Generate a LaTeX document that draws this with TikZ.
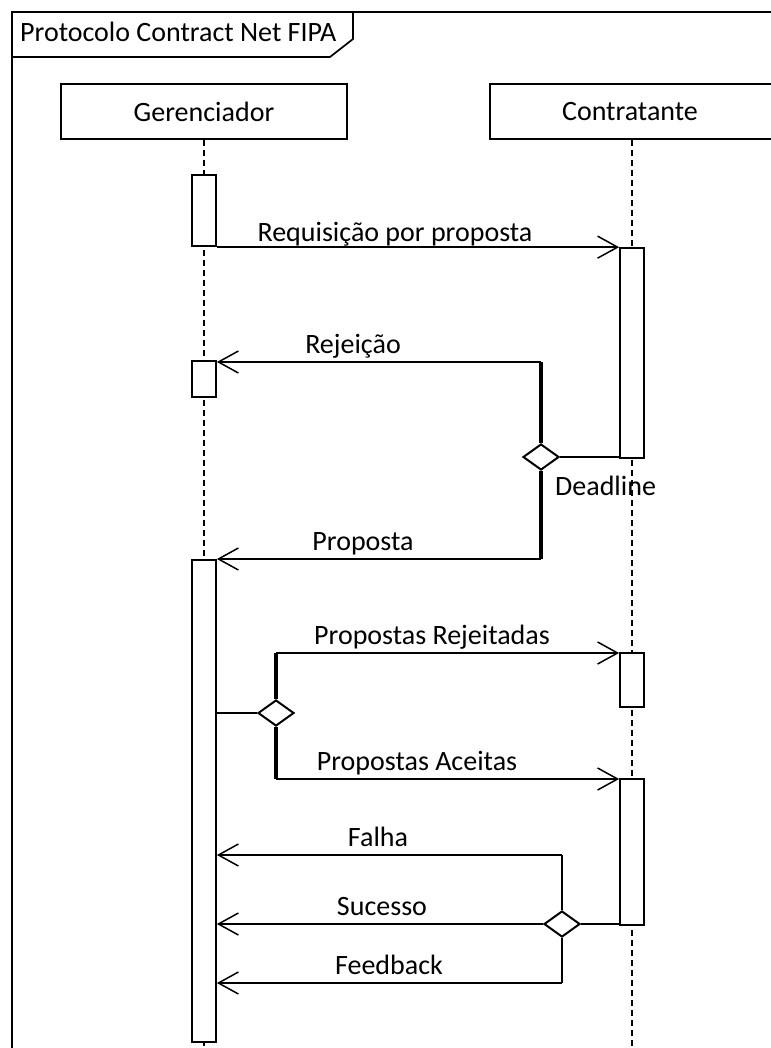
\documentclass[tikz,border=0pt]{standalone}
\usepackage{fontspec}
\setmainfont{Carlito}
\usetikzlibrary{arrows.meta,shapes.geometric,fit}
\tikzset{
  lbl/.style={font=\fontsize{28}{33}\selectfont, inner sep=0pt},
  head/.style={draw, line width=1.7pt, rectangle, inner sep=0pt},
  act/.style={draw, fill=white, line width=1.7pt, rectangle, inner sep=0pt},
  life/.style={line width=1.3pt, dash pattern=on 6pt off 4pt},
  msg/.style={line width=1.5pt, -{Straight Barb[length=20pt,width=22pt,line width=1.5pt]}},
  thick branch/.style={line width=3.2pt},
  thin branch/.style={line width=1.6pt},
  plain/.style={line width=1.5pt},
  choice/.style={diamond, draw, fill=white, line width=2pt, inner sep=0pt, minimum width=36pt, minimum height=26pt},
  frameline/.style={line width=1.7pt}
}
\begin{document}
\begin{tikzpicture}[x=1pt,y=-1pt]
\useasboundingbox (0,0) rectangle (770,1048);
% frame
\coordinate (fbl) at (12,1060);
\coordinate (ftl) at (12,12);
\coordinate (ftr) at (790,12);
\coordinate (tab1) at (12,57);
\coordinate (tab2) at (330,57);
\coordinate (tab3) at (353,39);
\coordinate (tab4) at (353,12);
\draw[frameline] (fbl) -- (ftl) -- (ftr);
\draw[frameline] (tab1) -- (tab2) -- (tab3) -- (tab4);
\node[lbl, anchor=base west] (title) at (20,42) {Protocolo Contract Net FIPA};
% lifeline heads
\node[head, fit={(61,84)(347,139)}] (ger) {};
\node[lbl] (gert) at (ger.center) {Gerenciador};
\node[head, fit={(490,84)(790,139)}] (con) {};
\node[lbl] (cont) at (630,112) {Contratante};
% lifelines
\coordinate (gend) at (204,1060);
\coordinate (cend) at (632,1060);
\draw[life] (ger.south -| gend) -- (gend);
\draw[life] (con.south -| cend) -- (cend);
% activations
\node[act, fit={(192,175)(216,246)}] (a1) {};
\node[act, fit={(192,361)(216,397)}] (a2) {};
\node[act, fit={(192,560)(216,1042)}] (a3) {};
\node[act, fit={(620,248)(644,458)}] (b1) {};
\node[act, fit={(620,653)(644,707)}] (b2) {};
\node[act, fit={(620,779)(644,925)}] (b3) {};
% request
\draw[msg] (a1.east |- b1.north) -- (b1.north west);
\node[lbl, anchor=base] (l1) at (395,242) {Requisição por proposta};
% deadline choice
\node[choice] (d1) at (541,457) {};
\coordinate (j1) at (541,362);
\coordinate (j2) at (541,559);
\draw[plain] (d1.east) -- (d1 -| b1.west);
\draw[thick branch] (d1.north) -- (j1);
\draw[thick branch] (d1.south) -- (j2);
\draw[msg] (j1) -- (j1 -| a2.east);
\draw[msg] (j2) -- (j2 -| a3.east);
\node[lbl, anchor=base] (l2) at (353,353) {Rejeição};
\node[lbl, anchor=base west] (l3) at (555,495) {Deadline};
\node[lbl, anchor=base] (l4) at (363,550) {Proposta};
% evaluation choice
\node[choice] (d2) at (276,713) {};
\coordinate (j3) at (276,653);
\coordinate (j4) at (276,779);
\draw[plain] (d2 -| a3.east) -- (d2.west);
\draw[thick branch] (d2.north) -- (j3);
\draw[thick branch] (d2.south) -- (j4);
\draw[msg] (j3) -- (j3 -| b2.west);
\draw[msg] (j4) -- (j4 -| b3.west);
\node[lbl, anchor=base] (l5) at (432,644) {Propostas Rejeitadas};
\node[lbl, anchor=base] (l6) at (417,770) {Propostas Aceitas};
% result choice
\node[choice] (d3) at (562,924) {};
\coordinate (j5) at (562,855);
\coordinate (j6) at (562,983);
\draw[plain] (d3.east) -- (d3 -| b3.west);
\draw[thin branch] (d3.north) -- (j5);
\draw[thin branch] (d3.south) -- (j6);
\draw[msg] (j5) -- (j5 -| a3.east);
\draw[msg] (d3.west) -- (d3 -| a3.east);
\draw[msg] (j6) -- (j6 -| a3.east);
\node[lbl, anchor=base] (l7) at (378,846) {Falha};
\node[lbl, anchor=base] (l8) at (382,915) {Sucesso};
\node[lbl, anchor=base] (l9) at (389,974) {Feedback};
\end{tikzpicture}
\end{document}
